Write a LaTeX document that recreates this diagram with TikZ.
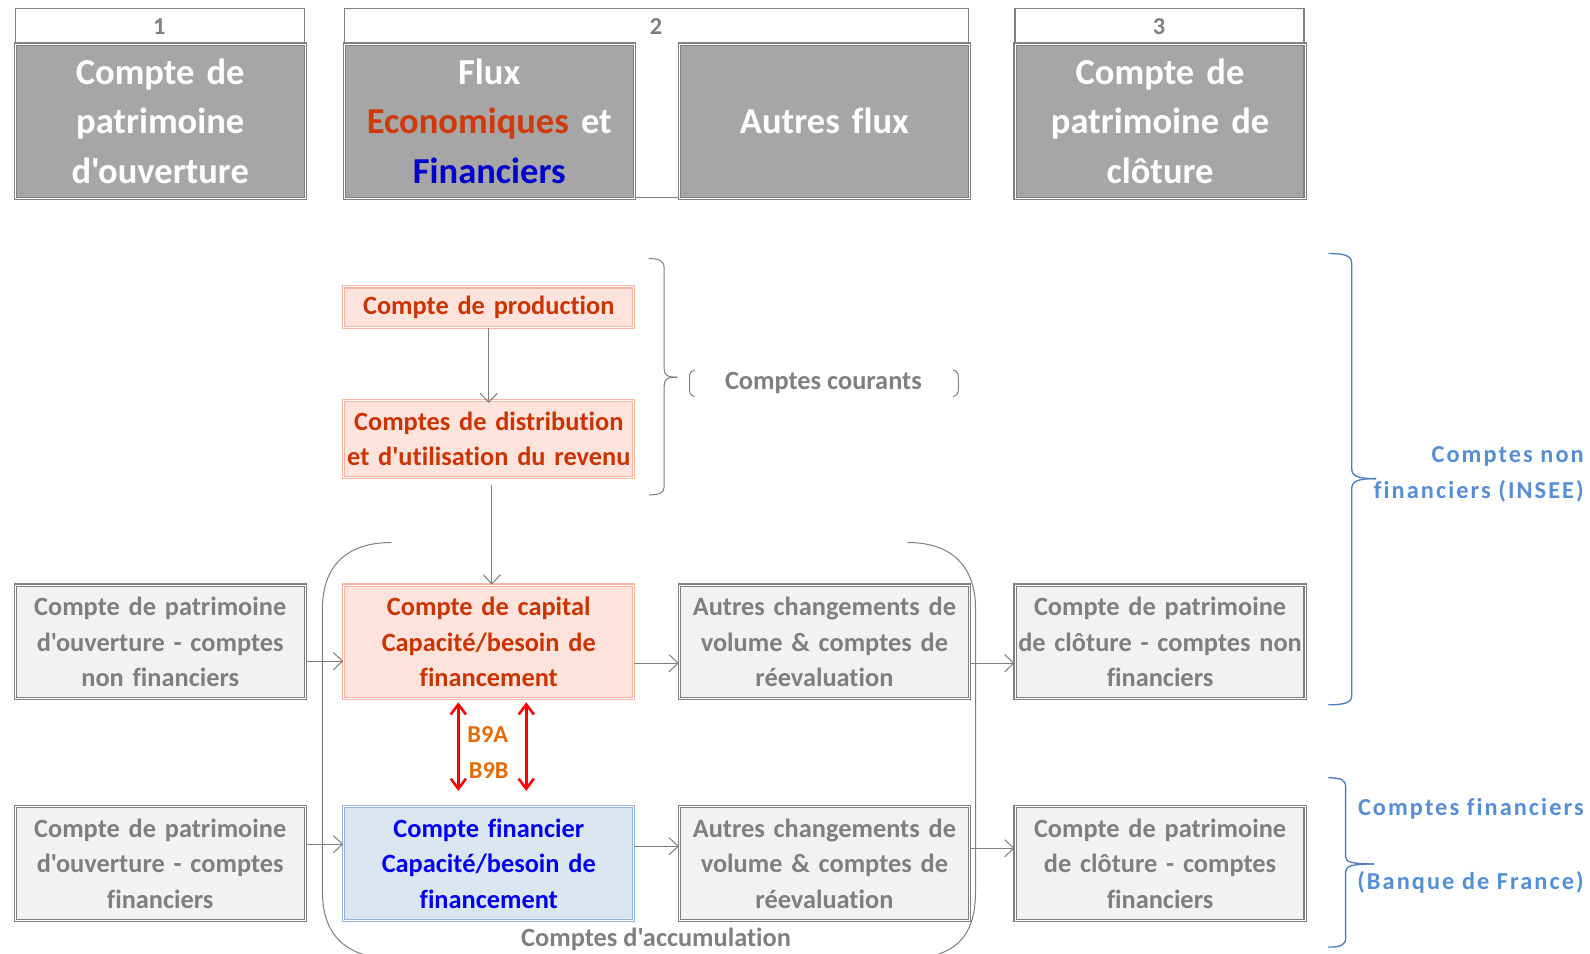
\documentclass[tikz,border=0pt]{standalone}
\usepackage{fontspec}
\setmainfont{Carlito}[Ligatures={TeXOff,NoCommon}]
\newfontfamily\spacedfont[LetterSpace=8.5,Ligatures={TeXOff,NoCommon}]{Carlito}
\usetikzlibrary{arrows.meta}
\definecolor{bgray}{HTML}{808080}
\definecolor{hgray}{HTML}{A6A6A6}
\definecolor{lgray}{HTML}{F2F2F2}
\definecolor{tgray}{HTML}{7F7F7F}
\definecolor{agray}{HTML}{7F7F7F}
\definecolor{pinkfill}{HTML}{FDE3DC}
\definecolor{pinkline}{HTML}{F8B4A0}
\definecolor{redtext}{HTML}{C93400}
\definecolor{econ}{HTML}{D03A0A}
\definecolor{finblue}{HTML}{0000CC}
\definecolor{bluefill}{HTML}{DCE6F1}
\definecolor{blueline}{HTML}{95B3D7}
\definecolor{bluetext}{HTML}{0000F0}
\definecolor{orangetext}{HTML}{E36C09}
\definecolor{bracecol}{HTML}{4A7EBB}
\definecolor{labelblue}{HTML}{558ED5}
\begin{document}
\begin{tikzpicture}[x=1pt,y=-1pt,
  numbox/.style={draw=bgray, line width=1.2pt, fill=white, minimum width=285pt, minimum height=187pt, inner sep=0pt},
  numlbl/.style={text=tgray, font=\fontsize{24}{28}\selectfont\bfseries, inner sep=0pt},
  hdr/.style={fill=hgray, draw=bgray, line width=1.1pt, double=white, double distance=1pt, minimum width=286pt, minimum height=152pt, text width=280pt, align=center, text=white, font=\fontsize{36}{49}\selectfont\bfseries, inner sep=0pt},
  box/.style={draw=bgray, line width=1.1pt, double=white, double distance=1pt, minimum width=286pt, minimum height=112pt, text width=282pt, align=center, font=\fontsize{26}{35}\selectfont\bfseries, inner sep=0pt},
  lbox/.style={box, fill=lgray, text=tgray},
  pbox/.style={box, fill=pinkfill, draw=pinkline, text=redtext},
  bbox/.style={box, fill=bluefill, draw=blueline, text=bluetext},
  gtext/.style={text=tgray, font=\fontsize{26}{35}\selectfont\bfseries, inner sep=0pt},
  b9/.style={text=orangetext, font=\fontsize{24}{28}\selectfont\bfseries, inner sep=0pt},
  bluelbl/.style={text=labelblue, font=\spacedfont\fontsize{24}{36}\selectfont\bfseries, inner sep=0pt},
  arr/.style={draw=agray, line width=1pt, -{Straight Barb[length=9pt,width=17pt]}},
  redarr/.style={draw=red, line width=2.5pt, {Straight Barb[length=10pt,width=15pt]}-{Straight Barb[length=10pt,width=15pt]}},
  gline/.style={draw=agray, line width=1pt},
  bbrace/.style={draw=bracecol, line width=1.3pt}]
\useasboundingbox (0,0) rectangle (1568,940);

% column containers with numbers
\node[numbox] (n1) at (157.5,101.5) {};
\node[numbox, minimum width=615pt] (n2) at (647.5,101.5) {};
\node[numbox] (n3) at (1143.5,101.5) {};
\node[numlbl] (l1) at (157,26) {1};
\node[numlbl] (l2) at (647,26) {2};
\node[numlbl] (l3) at (1143,26) {3};

% headers
\node[hdr] (h1) at (158,119.5) {Compte de\\patrimoine\\d'ouverture};
\node[hdr] (h2) at (482.5,119.5) {Flux\\\textcolor{econ}{Economiques} et\\\textcolor{finblue}{Financiers}};
\node[hdr] (h3) at (813,119.5) {Autres flux};
\node[hdr] (h4) at (1144,119.5) {Compte de\\patrimoine de\\clôture};

% current accounts
\node[pbox, minimum height=40pt] (prod) at (482,303) {Compte de production};
\node[pbox, minimum height=76pt] (dist) at (482,433) {Comptes de distribution\\et d'utilisation du revenu};

% row 1
\node[lbox] (o1) at (158,633) {Compte de patrimoine\\d'ouverture - comptes\\non financiers};
\node[pbox] (cap) at (482,633) {Compte de capital\\Capacité/besoin de\\financement};
\node[lbox] (a1) at (813,633) {Autres changements de\\volume \& comptes de\\réevaluation};
\node[lbox] (c1) at (1144,633) {Compte de patrimoine\\de clôture - comptes non\\financiers};

% row 2
\node[lbox] (o2) at (158,851.5) {Compte de patrimoine\\d'ouverture - comptes\\financiers};
\node[bbox] (fin) at (482,851.5) {Compte financier\\Capacité/besoin de\\financement};
\node[lbox] (a2) at (813,851.5) {Autres changements de\\volume \& comptes de\\réevaluation};
\node[lbox] (c2) at (1144,851.5) {Compte de patrimoine\\de clôture - comptes\\financiers};

% labels
\node[b9] (b9a) at (481,724) {B9A};
\node[b9] (b9b) at (482,760) {B9B};
\node[gtext] (cc) at (812,378) {Comptes courants};
\node[gtext] (acc) at (647,926) {Comptes d'accumulation};
\node[bluelbl, align=right, anchor=east] (nonfin) at (1562,468) {Comptes non\\financiers (INSEE)};
\node[bluelbl, anchor=east] (cfin) at (1562,798) {Comptes financiers};
\node[bluelbl, anchor=east] (bdf) at (1562,870) {(Banque de France)};

% connectors
\draw[arr] (prod.south) -- ([yshift=-3pt]dist.north);
\draw[arr] ([xshift=3pt,yshift=-7pt]dist.south) -- ([xshift=3pt]cap.north);
\draw[arr] ([yshift=-19pt]o1.east) -- ([yshift=-19pt]cap.west);
\draw[arr] ([yshift=-21pt]cap.east) -- ([yshift=-21pt]a1.west);
\draw[arr] ([yshift=-21pt]a1.east) -- ([yshift=-21pt]c1.west);
\draw[arr] ([yshift=19pt]o2.east) -- ([yshift=19pt]fin.west);
\draw[arr] ([yshift=17pt]fin.east) -- ([yshift=17pt]a2.west);
\draw[arr] ([yshift=15pt]a2.east) -- ([yshift=15pt]c2.west);
\draw[redarr] ([xshift=-30pt,yshift=-3pt]cap.south) -- ([xshift=-30pt,yshift=15pt]fin.north);
\draw[redarr] ([xshift=37pt,yshift=-3pt]cap.south) -- ([xshift=37pt,yshift=15pt]fin.north);

% accumulation frame
\draw[gline] (386,535) .. controls (340,535) and (318,560) .. (318,600) -- (318,880) .. controls (318,925) and (345,945) .. (386,945) -- (895,945) .. controls (940,945) and (962,925) .. (962,880) -- (962,600) .. controls (962,560) and (940,535) .. (895,535);

% current accounts brace
\draw[gline] (640,255) .. controls (650,255) and (655,257) .. (655,265) -- (655,364) .. controls (655,370) and (658,372) .. (668,372);
\draw[gline] (668,372) .. controls (658,372) and (655,374) .. (655,380) -- (655,480) .. controls (655,486) and (650,488) .. (640,488);
\draw[gline] (685,365) .. controls (681,366) and (680,368) .. (680,372) -- (680,384) .. controls (680,388) and (681,390) .. (685,391);
\draw[gline] (940,365) .. controls (944,366) and (945,368) .. (945,372) -- (945,384) .. controls (945,388) and (944,390) .. (940,391);

% blue braces
\draw[bbrace] (1310,250) .. controls (1326,250) and (1333,252) .. (1333,260) -- (1333,462) .. controls (1333,470) and (1340,472) .. (1357,472);
\draw[bbrace] (1357,472) .. controls (1340,472) and (1333,474) .. (1333,482) -- (1333,686) .. controls (1333,693) and (1326,695) .. (1310,695);
\draw[bbrace] (1310,767) .. controls (1322,767) and (1327,769) .. (1327,776) -- (1327,845) .. controls (1327,850) and (1333,852) .. (1355,852);
\draw[bbrace] (1355,852) .. controls (1333,852) and (1327,854) .. (1327,860) -- (1327,925) .. controls (1327,932) and (1322,934) .. (1310,934);
\end{tikzpicture}
\end{document}
